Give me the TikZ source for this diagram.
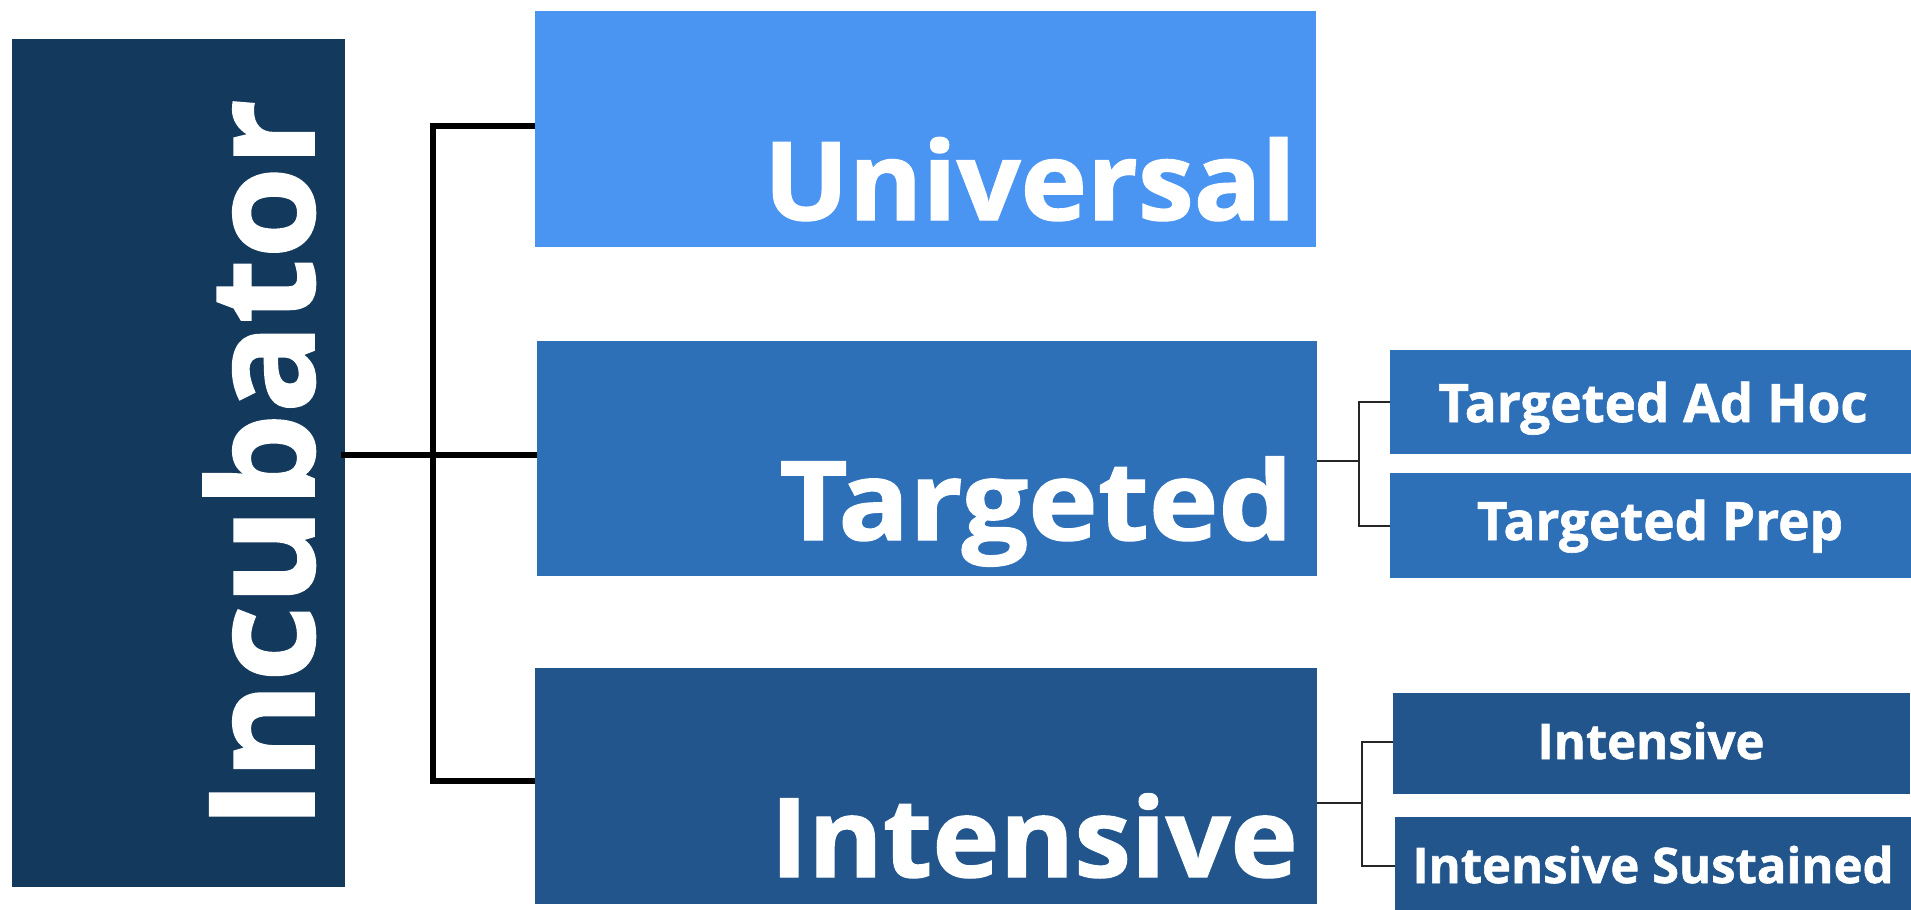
\documentclass[tikz,border=0pt]{standalone}
\usepackage{fontspec}
\usepackage{graphicx}
\setmainfont{Open Sans}[BoldFont={* Bold}]
\newfontfamily\heavy{Open Sans}[UprightFont={* Bold}, FakeBold=1.2]
\usetikzlibrary{calc}
\definecolor{cInc}{HTML}{13395C}
\definecolor{cUni}{HTML}{4A94F2}
\definecolor{cTar}{HTML}{2D70B8}
\definecolor{cInt}{HTML}{21558C}
\tikzset{
  boxnode/.style={draw=none, inner sep=0pt, anchor=north west},
  lbl/.style={text=white, inner sep=0pt},
  mainline/.style={draw=black, line width=6.5pt, line join=miter},
  subline/.style={draw=black!85, line width=2pt, line join=miter},
}
\begin{document}
\begin{tikzpicture}[x=1pt,y=-1pt]
\useasboundingbox[fill=white] (0,0) rectangle (1911,910);
% boxes
\node[boxnode, fill=cInc, minimum width=333pt, minimum height=848pt] (inc) at (12,39) {};
\node[boxnode, fill=cUni, minimum width=781pt, minimum height=236pt] (univ) at (535,11) {};
\node[boxnode, fill=cTar, minimum width=780pt, minimum height=235pt] (targ) at (537,341) {};
\node[boxnode, fill=cInt, minimum width=782pt, minimum height=236pt] (intens) at (535,668) {};
\node[boxnode, fill=cTar, minimum width=521pt, minimum height=104pt] (adhoc) at (1390,350) {};
\node[boxnode, fill=cTar, minimum width=521pt, minimum height=105pt] (prep) at (1390,473) {};
\node[boxnode, fill=cInt, minimum width=517pt, minimum height=101pt] (isub) at (1393,693) {};
\node[boxnode, fill=cInt, minimum width=516pt, minimum height=93pt] (isus) at (1395,817) {};
% labels
\node[lbl, rotate=90, anchor=base, font=\heavy\fontsize{146}{150}\selectfont] (incT) at (314,464) {\scalebox{1.02}[1]{Incubator}};
\node[lbl, anchor=base east, font=\heavy\fontsize{109}{112}\selectfont] (univT) at (1296,220) {\scalebox{1.03}[1]{Universal}};
\node[lbl, anchor=base east, font=\heavy\fontsize{110}{112}\selectfont] (targT) at (1293,540) {\scalebox{1.07}[1]{Targeted}};
\node[lbl, anchor=base east, font=\heavy\fontsize{110}{112}\selectfont] (intT) at (1298,877) {\scalebox{1.035}[1]{Intensive}};
\node[lbl, anchor=base, font=\heavy\fontsize{53}{56}\selectfont] (adhocT) at (1653,422) {Targeted Ad Hoc};
\node[lbl, anchor=base, font=\heavy\fontsize{53}{56}\selectfont] (prepT) at (1660,540) {Targeted Prep};
\node[lbl, anchor=base, font=\heavy\fontsize{49}{52}\selectfont] (isubT) at (1651,759) {Intensive};
\node[lbl, anchor=base, font=\heavy\fontsize{49}{52}\selectfont] (isusT) at (1653,883) {Intensive Sustained};
% main connectors
\coordinate (jTop) at (433,126);
\coordinate (jBot) at (433,781);
\draw[mainline] ($(univ.north west)+(0,115)$) -- (jTop) -- (jBot) -- ($(intens.north west)+(0,113)$);
\draw[mainline] ($(inc.north east)+(-4,416)$) -- ($(targ.north west)+(0,114)$);
% sub connectors
\coordinate (tj) at (1359,461);
\draw[subline] ($(targ.north east)+(0,120)$) -- (tj);
\draw[subline] (adhoc.west) -| (tj) |- (prep.west);
\coordinate (ij) at (1362,803);
\draw[subline] ($(intens.north east)+(0,135)$) -- (ij);
\draw[subline] ($(isub.north west)+(0,49)$) -| (ij) |- ($(isus.north west)+(0,49)$);
\end{tikzpicture}
\end{document}
